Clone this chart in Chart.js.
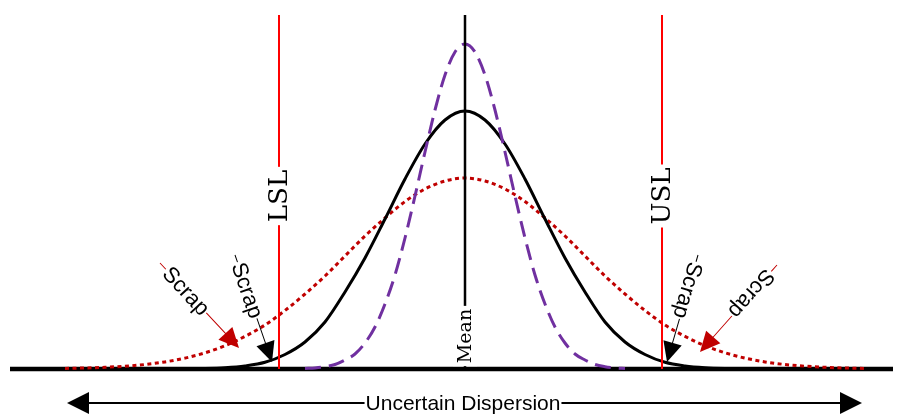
<!DOCTYPE html>
<html>
<head>
<meta charset="utf-8">
<script src="https://cdn.jsdelivr.net/npm/chart.js@4.4.1/dist/chart.umd.min.js"></script>
<style>
  html, body { margin: 0; padding: 0; background: #fff; }
  canvas { display: block; }
</style>
</head>
<body>
<canvas id="dispersion" width="897" height="416"></canvas>
<script>
// curve samples (x = offset from the mean, y = height)
var black_x = [-300,-280,-260,-240,-220,-200,-180,-160,-140,-120,-100,-80,-60,-40,-20,0,20,40,60,80,100,120,140,160,180,200,220,240,260,280,300];
var black_y = [0,0.2,0.5,1.3,3.1,6.7,14.5,27,47,77,111,150,190,225,249,258,249,225,190,150,111,77,47,27,14.5,6.7,3.1,1.3,0.5,0.2,0];

var purple_x = [-160,-150,-140,-130,-120,-110,-100,-90,-80,-70,-60,-50,-40,-30,-20,-10,0,10,20,30,40,50,60,70,80,90,100,110,120,130,140,150,160];
var purple_y = [0.5,1.1,2.3,4.5,9,15,26,42,65,94,131,173,217,259,294,317,325,317,294,259,217,173,131,94,65,42,26,15,9,4.5,2.3,1.1,0.5];

var red_x = [-400,-380,-360,-340,-320,-300,-280,-260,-240,-220,-200,-180,-160,-140,-120,-100,-80,-60,-40,-20,0,20,40,60,80,100,120,140,160,180,200,220,240,260,280,300,320,340,360,380,400];
var red_y = [0.6,1.0,1.7,2.8,4.5,7.1,10.9,16.2,23.3,32.6,44,58.5,75,93,113,133,151,167.5,180,188,191,188,180,167.5,151,133,113,93,75,58.5,44,32.6,23.3,16.2,10.9,7.1,4.5,2.8,1.7,1.0,0.6];

// spec limits and the mean
var limit_names  = ["LSL", "USL"];
var limit_values = [-186, 197];
var mean_value   = 0;
var mean_label   = "Mean";

// axis extents
var x_min = -455;
var x_max = 428;
var y_top = 354;

// bottom arrow span and text
var dispersion_range = [-398, 397];
var dispersion_label = "Uncertain Dispersion";

// scrap call-outs: from (start) to (tip), label sits part way along
var scrap_label = "Scrap";
var scrap_start_x = [-305, -230, 233, 312];
var scrap_start_y = [106, 114, 114, 104];
var scrap_tip_x   = [-226, -193, 202, 235];
var scrap_tip_y   = [21, 7, 7, 17];
var scrap_colors  = ["#C00000", "#000000", "#000000", "#C00000"];

function to_points(xs, ys){
  var pts = [];
  for(var i=0;i<xs.length;i++){
    pts.push({x: xs[i], y: ys[i]});
  }
  return pts;
}

function vertical_line(x){
  return [{x: x, y: 0}, {x: x, y: y_top}];
}

// draws text rotated -90deg on a white patch so the line behind it is broken
function vertical_label(ctx, px, py, text, font){
  ctx.save();
  ctx.translate(px, py);
  ctx.rotate(-Math.PI/2);
  ctx.font = font;
  var w = ctx.measureText(text).width;
  ctx.fillStyle = "#fff";
  ctx.fillRect(-w/2 - 3, -12, w + 6, 24);
  ctx.fillStyle = "#000";
  ctx.textAlign = "center";
  ctx.textBaseline = "middle";
  ctx.fillText(text, 0, 1);
  ctx.restore();
}

function arrow_head(ctx, x, y, angle, len, half, color){
  ctx.save();
  ctx.translate(x, y);
  ctx.rotate(angle);
  ctx.fillStyle = color;
  ctx.beginPath();
  ctx.moveTo(0, 0);
  ctx.lineTo(-len, -half);
  ctx.lineTo(-len, half);
  ctx.closePath();
  ctx.fill();
  ctx.restore();
}

var annotations = {
  id: "annotations",
  afterDatasetsDraw: function(chart){
    var ctx = chart.ctx;
    var xs = chart.scales.x;
    var ys = chart.scales.y;

    // LSL / USL labels
    for(var i=0;i<limit_names.length;i++){
      vertical_label(ctx, xs.getPixelForValue(limit_values[i]), ys.getPixelForValue(173),
                     limit_names[i], '26px "DejaVu Serif"');
    }
    // mean label
    vertical_label(ctx, xs.getPixelForValue(mean_value), ys.getPixelForValue(33),
                   mean_label, '19px "DejaVu Serif"');

    // scrap arrows
    for(var k=0;k<scrap_start_x.length;k++){
      var sx = xs.getPixelForValue(scrap_start_x[k]);
      var sy = ys.getPixelForValue(scrap_start_y[k]);
      var tx = xs.getPixelForValue(scrap_tip_x[k]);
      var ty = ys.getPixelForValue(scrap_tip_y[k]);
      var ang = Math.atan2(ty - sy, tx - sx);
      var len = Math.hypot(tx - sx, ty - sy);
      ctx.save();
      ctx.translate(sx, sy);
      ctx.rotate(ang);
      ctx.font = '22px "Liberation Sans"';
      var w = ctx.measureText(scrap_label).width;
      var cx = len * 0.33;
      ctx.strokeStyle = scrap_colors[k];
      ctx.lineWidth = 1;
      ctx.beginPath();
      ctx.moveTo(0, 0);
      ctx.lineTo(cx - w/2 - 1, 0);
      ctx.moveTo(cx + w/2 + 1, 0);
      ctx.lineTo(len - 12, 0);
      ctx.stroke();
      ctx.fillStyle = "#000";
      ctx.textAlign = "center";
      ctx.textBaseline = "middle";
      ctx.fillText(scrap_label, cx, 1);
      ctx.restore();
      arrow_head(ctx, tx, ty, ang, 20, 9.5, scrap_colors[k]);
    }

    // uncertain dispersion double arrow
    var ay = ys.getPixelForValue(-34);
    var ax0 = xs.getPixelForValue(dispersion_range[0]);
    var ax1 = xs.getPixelForValue(dispersion_range[1]);
    ctx.save();
    ctx.strokeStyle = "#000";
    ctx.lineWidth = 2;
    ctx.beginPath();
    ctx.moveTo(ax0 + 15, ay);
    ctx.lineTo(ax1 - 15, ay);
    ctx.stroke();
    ctx.font = '21px "Liberation Sans"';
    var dw = ctx.measureText(dispersion_label).width;
    var dcx = xs.getPixelForValue(mean_value) - 2;
    ctx.fillStyle = "#fff";
    ctx.fillRect(dcx - dw/2 - 1, ay - 12, dw + 2, 24);
    ctx.fillStyle = "#000";
    ctx.textAlign = "center";
    ctx.textBaseline = "middle";
    ctx.fillText(dispersion_label, dcx, ay + 1);
    ctx.restore();
    arrow_head(ctx, ax0, ay, Math.PI, 22, 11, "#000");
    arrow_head(ctx, ax1, ay, 0, 22, 11, "#000");
  }
};

var datasets = [
  { label: "baseline", data: [{x: x_min, y: 0}, {x: x_max, y: 0}],
    borderColor: "#000", borderWidth: 4.5, order: 10 },
  { label: "wide", data: to_points(red_x, red_y),
    borderColor: "#C00000", borderWidth: 3, borderDash: [4, 3.5], order: 5 },
  { label: "nominal", data: to_points(black_x, black_y),
    borderColor: "#000", borderWidth: 3, order: 4 },
  { label: "narrow", data: to_points(purple_x, purple_y),
    borderColor: "#7030A0", borderWidth: 3, borderDash: [16, 8], order: 3 },
  { label: "Mean", data: vertical_line(mean_value),
    borderColor: "#000", borderWidth: 2.5, order: 1, tension: 0 }
];
for(var j=0;j<limit_names.length;j++){
  datasets.push({ label: limit_names[j], data: vertical_line(limit_values[j]),
                  borderColor: "#FF0000", borderWidth: 2, order: 0, tension: 0 });
}

var ctx = document.getElementById("dispersion").getContext("2d");
var my_chart = new Chart(ctx, {
  type: "line",
  data: { datasets: datasets },
  options: {
    responsive: false,
    animation: false,
    parsing: true,
    layout: { padding: { left: 10, right: 4, top: 15, bottom: 47 } },
    elements: {
      point: { radius: 0 },
      line: { cubicInterpolationMode: "monotone", fill: false, borderCapStyle: "butt" }
    },
    datasets: { line: { clip: false } },
    plugins: { legend: { display: false }, tooltip: { enabled: false } },
    scales: {
      x: { type: "linear", min: x_min, max: x_max, display: false },
      y: { type: "linear", min: 0, max: y_top, display: false }
    }
  },
  plugins: [annotations]
});
</script>
</body>
</html>
